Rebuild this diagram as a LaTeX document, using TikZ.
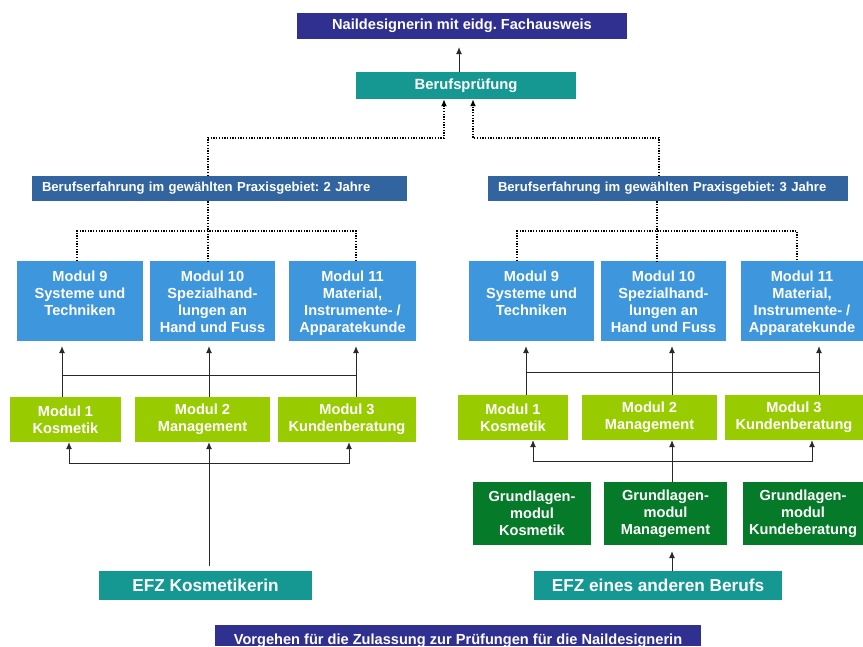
\documentclass[tikz,border=0pt]{standalone}
\usepackage{fontspec}
\setmainfont{Liberation Sans}
\usetikzlibrary{arrows.meta,calc}
\definecolor{navy}{RGB}{48,48,145}
\definecolor{teal2}{RGB}{22,152,146}
\definecolor{steel}{RGB}{50,100,160}
\definecolor{sky}{RGB}{62,150,220}
\definecolor{lime2}{RGB}{153,204,0}
\definecolor{dgreen}{RGB}{5,122,40}
\definecolor{ln}{RGB}{40,40,40}
\frenchspacing
\begin{document}
\begin{tikzpicture}[x=1pt,y=-1pt,
  box/.style={inner sep=0pt, text=white, align=center},
  modfont/.style={font=\fontsize{14.6}{17.2}\selectfont\bfseries},
  bluebox/.style={box, fill=sky, modfont},
  limebox/.style={box, fill=lime2, modfont},
  greenbox/.style={box, fill=dgreen, modfont},
  tealbox/.style={box, fill=teal2},
  steelbox/.style={box, fill=steel, align=left, inner xsep=10pt, text width=#1, minimum height=25pt, font=\fontsize{13.1}{14}\selectfont\bfseries},
  arr/.style={draw=ln, line width=0.8pt, -{Latex[length=7pt,width=6pt]}},
  lin/.style={draw=ln, line width=0.8pt},
  dots/.style={draw=black, line width=1.4pt, dash pattern=on 1.3pt off 1.4pt},
  darr/.style={dots, -{Latex[length=7pt,width=6pt]}},
]
\useasboundingbox[fill=white] (0,0) rectangle (863,646);

% top
\node[box, fill=navy, minimum width=330pt, minimum height=26pt, font=\fontsize{14.6}{16}\selectfont\bfseries] (title) at (462,26) {Naildesignerin mit eidg. Fachausweis};
\node[tealbox, minimum width=220pt, minimum height=27pt, font=\fontsize{14.8}{16}\selectfont\bfseries] (bp) at (466,85.5) {Berufsprüfung};
\draw[arr, shorten >=8pt] ([xshift=-7pt]bp.north) -- ([xshift=-7pt]bp.north |- title.south);

% Berufserfahrung
\node[steelbox=355pt] (beL) at (219.5,188.5) {Berufserfahrung im gewählten Praxisgebiet: 2 Jahre};
\node[steelbox=340pt] (beR) at (668,188.5) {Berufserfahrung im gewählten Praxisgebiet: 3 Jahre};
\coordinate (top) at (0,138);
\draw[darr] ([xshift=-11.5pt]beL.north) |- ([xshift=-22pt]bp.south |- top) -- ([xshift=-22pt]bp.south);
\draw[darr] ([xshift=-9pt]beR.north) |- ([xshift=7pt]bp.south |- top) -- ([xshift=7pt]bp.south);

% upper modules left
\node[bluebox] (m9L) at (80,301) {\parbox[c][80pt][t]{126pt}{\centering\vspace{9.5pt}Modul 9\\Systeme und\\Techniken}};
\node[bluebox] (m10L) at (212.5,301) {\parbox[c][80pt][t]{125pt}{\centering\vspace{9.5pt}Modul 10\\Spezialhand-\\lungen an\\Hand und Fuss}};
\node[bluebox] (m11L) at (352.5,301) {\parbox[c][80pt][t]{127pt}{\centering\vspace{9.5pt}Modul 11\\Material,\\Instrumente- /\\Apparatekunde}};
% upper modules right
\node[bluebox] (m9R) at (531.5,301) {\parbox[c][80pt][t]{125pt}{\centering\vspace{9.5pt}Modul 9\\Systeme und\\Techniken}};
\node[bluebox] (m10R) at (663.5,301) {\parbox[c][80pt][t]{125pt}{\centering\vspace{9.5pt}Modul 10\\Spezialhand-\\lungen an\\Hand und Fuss}};
\node[bluebox] (m11R) at (802,301) {\parbox[c][80pt][t]{122pt}{\centering\vspace{9.5pt}Modul 11\\Material,\\Instrumente- /\\Apparatekunde}};

% dotted distribution
\coordinate (dl) at (0,231);
\draw[dots] ([xshift=-11.5pt]beL.south) -- ([xshift=-11.5pt]beL.south |- dl);
\draw[dots] ([xshift=-3pt]m9L.north) |- ([xshift=3.5pt]m11L.north |- dl) -- ([xshift=3.5pt]m11L.north);
\draw[dots] ([xshift=-4.5pt]m10L.north |- dl) -- ([xshift=-4.5pt]m10L.north);
\draw[dots] ([xshift=-11pt]beR.south) -- ([xshift=-11pt]beR.south |- dl);
\draw[dots] ([xshift=-14.5pt]m9R.north) |- ([xshift=-5pt]m11R.north |- dl) -- ([xshift=-5pt]m11R.north);
\draw[dots] ([xshift=-6.5pt]m10R.north |- dl) -- ([xshift=-6.5pt]m10R.north);

% lower modules left
\node[limebox, minimum width=111pt, minimum height=45pt] (m1L) at (65.5,419.5) {Modul 1\\Kosmetik};
\node[limebox, minimum width=135pt, minimum height=45pt] (m2L) at (202.5,419.5) {Modul 2\\Management};
\node[limebox, minimum width=138pt, minimum height=45pt] (m3L) at (347,419.5) {Modul 3\\Kundenberatung};
% lower modules right
\node[limebox, minimum width=110pt, minimum height=45pt] (m1R) at (513,417.5) {Modul 1\\Kosmetik};
\node[limebox, minimum width=135pt, minimum height=45pt] (m2R) at (649.5,417.5) {Modul 2\\Management};
\node[limebox, minimum width=138pt, minimum height=45pt] (m3R) at (794,417.5) {Modul 3\\Kundenberatung};

% arrows lower -> upper, left
\coordinate (hL) at (0,375);
\draw[arr, shorten >=5pt] ([xshift=-3.5pt]m1L.north) -- ([xshift=-3.5pt]m1L.north |- m9L.south);
\draw[arr, shorten >=5pt] ([xshift=6.5pt]m2L.north) -- ([xshift=6.5pt]m2L.north |- m10L.south);
\draw[arr, shorten >=5pt] ([xshift=9pt]m3L.north) -- ([xshift=9pt]m3L.north |- m11L.south);
\draw[lin] ([xshift=-3.5pt]m1L.north |- hL) -- ([xshift=9pt]m3L.north |- hL);
% arrows lower -> upper, right
\coordinate (hR) at (0,372);
\draw[arr, shorten >=5pt] ([xshift=13pt]m1R.north) -- ([xshift=13pt]m1R.north |- m9R.south);
\draw[arr, shorten >=5pt] ([xshift=22.5pt]m2R.north) -- ([xshift=22.5pt]m2R.north |- m10R.south);
\draw[arr, shorten >=5pt] ([xshift=25pt]m3R.north) -- ([xshift=25pt]m3R.north |- m11R.south);
\draw[lin] ([xshift=13pt]m1R.north |- hR) -- ([xshift=25pt]m3R.north |- hR);

% EFZ left
\node[tealbox, minimum width=213pt, minimum height=29pt, font=\fontsize{17.2}{19}\selectfont\bfseries] (efzk) at (205.5,585.5) {EFZ Kosmetikerin};
\coordinate (bL) at (0,463);
\draw[arr, shorten <=5pt] ([xshift=3.5pt]efzk.north) -- ([xshift=3.5pt]efzk.north |- m2L.south);
\draw[arr] ([xshift=3.5pt]efzk.north |- bL) -| ([xshift=3.5pt]m1L.south);
\draw[arr] ([xshift=3.5pt]efzk.north |- bL) -| ([xshift=2pt]m3L.south);

% Grundlagen right
\node[greenbox, minimum width=118pt, minimum height=63pt] (g1) at (532,513.5) {Grundlagen-\\modul\\Kosmetik};
\node[greenbox, minimum width=123pt, minimum height=63pt] (g2) at (665.5,513.5) {Grundlagen-\\modul\\Management};
\node[greenbox, minimum width=120pt, minimum height=63pt] (g3) at (803,513.5) {Grundlagen-\\modul\\Kundeberatung};
\coordinate (bR) at (0,461);
\draw[arr] ([xshift=6.5pt]g2.north) -- ([xshift=6.5pt]g2.north |- m2R.south);
\draw[arr] ([xshift=6.5pt]g2.north |- bR) -| ([xshift=20pt]m1R.south);
\draw[arr] ([xshift=6.5pt]g2.north |- bR) -| ([xshift=18pt]m3R.south);

% EFZ right
\node[tealbox, minimum width=248pt, minimum height=29pt, font=\fontsize{17.2}{19}\selectfont\bfseries] (efza) at (658,585.5) {EFZ eines anderen Berufs};
\draw[arr, shorten >=6pt] ([xshift=14pt]efza.north) -- ([xshift=14pt]efza.north |- g2.south);

% bottom caption
\node[box, fill=navy, minimum width=486pt, text height=19pt, text depth=2pt, anchor=north, font=\fontsize{14.6}{16}\selectfont\bfseries] (cap) at (458,625) {Vorgehen für die Zulassung zur Prüfungen für die Naildesignerin};
\end{tikzpicture}
\end{document}
